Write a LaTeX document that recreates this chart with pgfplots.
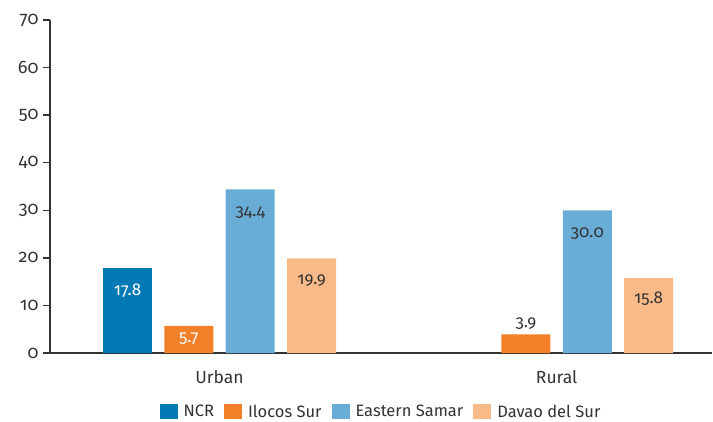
\documentclass[border=0pt]{standalone}
\usepackage{pgfplots}
\pgfplotsset{compat=1.18}
\usepackage{fontspec}
\setmainfont{Fira Sans}[Numbers=OldStyle]
\definecolor{cNCR}{HTML}{0079B5}
\definecolor{cIlo}{HTML}{F28029}
\definecolor{cES}{HTML}{69ADD7}
\definecolor{cDS}{HTML}{F9BA8A}
\definecolor{axisgray}{HTML}{333333}
\definecolor{textgray}{HTML}{333333}
\begin{document}
\begin{tikzpicture}
\begin{axis}[
  scale only axis, width=662pt, height=333pt,
  ybar, bar width=49pt,
  xmin=-0.503, xmax=1.461, ymin=0, ymax=70,
  ytick={0,10,...,70},
  xtick={0,1}, xticklabels={Urban,Rural},
  axis x line*=bottom, axis y line*=left,
  axis line style={color=axisgray, line width=1.3pt},
  tick align=outside, major tick length=7pt,
  xtick style={draw=none},
  ytick style={color=axisgray, line width=1.3pt},
  /pgf/number format/assume math mode=true,
  yticklabel style={font=\fontsize{18}{20}\selectfont, text=textgray, xshift=-1pt},
  xticklabel style={font=\fontsize{17.5}{20}\selectfont, text=textgray, yshift=-7pt},
  legend columns=4,
  legend style={draw=none, at={(0.5,-0.177)}, anchor=center,
    font=\fontsize{16.5}{18}\selectfont, text=textgray,
    /tikz/every even column/.append style={column sep=8pt}},
  legend image code/.code={\fill[#1] (0pt,-7pt) rectangle (18pt,8pt); \path (0pt,0pt) -- (22pt,0pt);},
  nodes near coords={\pgfmathprintnumber[fixed,fixed zerofill,precision=1]{\pgfplotspointmeta}},
]
\addplot[fill=cNCR, draw=none, bar shift=-92pt,
  every node near coord/.append style={text=white, anchor=base, yshift=-27pt, font=\fontsize{17}{19}\selectfont}]
  coordinates {(0,17.8)};
\addplot[fill=cIlo, draw=none, bar shift=-30.7pt, nodes near coords={}]
  coordinates {(0,5.7) (1,3.9)};
\addplot[fill=cES, draw=none, bar shift=30.7pt,
  every node near coord/.append style={text=textgray, anchor=base, yshift=-27pt, font=\fontsize{17}{19}\selectfont}]
  coordinates {(0,34.4) (1,30.0)};
\addplot[fill=cDS, draw=none, bar shift=92pt,
  every node near coord/.append style={text=textgray, anchor=base, yshift=-26pt, font=\fontsize{17}{19}\selectfont}]
  coordinates {(0,19.9) (1,15.8)};
\addplot[forget plot, draw=none, fill=none, bar shift=-30.7pt,
  every node near coord/.append style={text=white, anchor=base, yshift=-17pt, font=\fontsize{17}{19}\selectfont}]
  coordinates {(0,5.7)};
\addplot[forget plot, draw=none, fill=none, bar shift=-30.7pt,
  every node near coord/.append style={text=textgray, anchor=base, yshift=7pt, font=\fontsize{17}{19}\selectfont}]
  coordinates {(1,3.9)};
\legend{NCR, Ilocos Sur, Eastern Samar, Davao del Sur}
\end{axis}
\pgfresetboundingbox
\path (-50pt,-68pt) rectangle (663pt,353pt);
\end{tikzpicture}
\end{document}
